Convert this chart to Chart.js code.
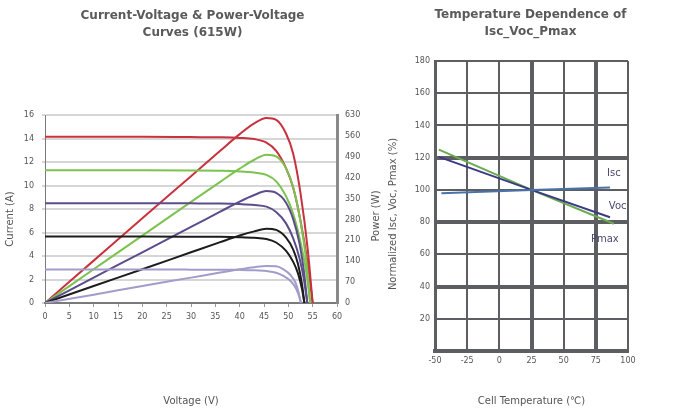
<!DOCTYPE html>
<html>
<head>
<meta charset="utf-8">
<script src="https://cdn.jsdelivr.net/npm/chart.js@4.4.1/dist/chart.umd.min.js"></script>
<style>
  html, body { margin: 0; padding: 0; background: #fff; }
  body { width: 676px; height: 416px; position: relative; overflow: hidden; }
  #ivBox { position: absolute; left: 0; top: 0; width: 385px; height: 416px; }
  #tempBox { position: absolute; left: 385px; top: 0; width: 291px; height: 416px; }
</style>
</head>
<body>
<div id="ivBox"><canvas id="ivChart"></canvas></div>
<div id="tempBox"><canvas id="tempChart"></canvas></div>
<script>
// I-V (A) and P-V (W) curves, one block per irradiance level
const vRed = [0, 10, 20, 30, 36, 40, 43, 45.5, 47.5, 49.5, 51, 52.5, 54, 55];
const iRed = [14.15, 14.15, 14.15, 14.12, 14.1, 14.05, 13.95, 13.65, 12.95, 11.5, 9.8, 7.0, 3.3, 0];
const pRed = [0, 142, 284, 425, 510, 566, 602, 620, 614, 569, 500, 368, 178, 0];

const vGreen = [0, 10, 20, 30, 36, 40, 43, 45.5, 47.5, 49.5, 51, 52.5, 53.7, 54.5];
const iGreen = [11.3, 11.3, 11.3, 11.28, 11.25, 11.2, 11.1, 10.9, 10.35, 9.1, 7.6, 5.2, 2.6, 0];
const pGreen = [0, 113, 226, 339, 406, 450, 480, 497, 491, 452, 388, 273, 140, 0];

const vPurple = [0, 10, 20, 30, 36, 40, 43, 45.5, 47.5, 49.5, 51, 52.3, 53.2, 53.9];
const iPurple = [8.5, 8.5, 8.5, 8.48, 8.46, 8.42, 8.35, 8.2, 7.75, 6.8, 5.5, 3.8, 2.0, 0];
const pPurple = [0, 85, 170, 255, 306, 340, 362, 375, 369, 337, 281, 199, 106, 0];

const vBlack = [0, 10, 20, 30, 36, 40, 43, 45.5, 47.5, 49.5, 51, 52, 52.8, 53.3];
const iBlack = [5.65, 5.65, 5.65, 5.64, 5.63, 5.6, 5.55, 5.45, 5.15, 4.45, 3.5, 2.5, 1.2, 0];
const pBlack = [0, 57, 113, 170, 204, 226, 240, 249, 245, 220, 179, 130, 63, 0];

const vLilac = [0, 10, 20, 30, 36, 40, 43, 45.5, 47.5, 49, 50.5, 51.5, 52.1, 52.6];
const iLilac = [2.85, 2.85, 2.85, 2.84, 2.83, 2.82, 2.79, 2.72, 2.58, 2.3, 1.85, 1.3, 0.7, 0];
const pLilac = [0, 28, 57, 85, 102, 113, 120, 124, 123, 113, 93, 67, 36, 0];

// temperature dependence, normalised to 25 degC (%)
const tempIsc = [-45, 25, 86];
const valIsc = [97.9, 100, 101.5];
const tempVoc = [-47, 25, 86];
const valVoc = [120.5, 100, 83];
const tempPmax = [-47, 25, 89];
const valPmax = [125, 100, 79];

const curveNames = ['Isc', 'Voc', 'Pmax'];
const nameTemp = [89, 92, 82];
const nameValue = [110, 90, 69];

const FONT = "'DejaVu Sans', Verdana, sans-serif";
Chart.defaults.font.family = FONT;
Chart.defaults.color = '#555';
Chart.defaults.animation = false;

function pts(xs, ys) {
  return xs.map((x, k) => ({ x: x, y: ys[k] }));
}

// vertical axis titles, read bottom to top like the original
const sideTitlePlugin = {
  id: 'sideTitles',
  afterDraw(chart, args, opts) {
    const ctx = chart.ctx;
    (opts.items || []).forEach(it => {
      ctx.save();
      ctx.translate(it.x, it.y);
      ctx.rotate(-Math.PI / 2);
      ctx.font = '10px ' + FONT;
      ctx.fillStyle = '#555';
      ctx.textAlign = 'center';
      ctx.textBaseline = 'middle';
      ctx.fillText(it.text, 0, 0);
      ctx.restore();
    });
  }
};

const ivSeries = [
  { v: vLilac, i: iLilac, p: pLilac, color: '#a29ccb' },
  { v: vBlack, i: iBlack, p: pBlack, color: '#1c1c1c' },
  { v: vPurple, i: iPurple, p: pPurple, color: '#5c4c8c' },
  { v: vGreen, i: iGreen, p: pGreen, color: '#7cc24e' },
  { v: vRed, i: iRed, p: pRed, color: '#c8323e' }
];

const ivDatasets = [];
ivSeries.forEach(s => {
  ivDatasets.push({ data: pts(s.v, s.i), yAxisID: 'y', borderColor: s.color, borderWidth: 2,
    pointRadius: 0, cubicInterpolationMode: 'monotone', fill: false });
  ivDatasets.push({ data: pts(s.v, s.p), yAxisID: 'y1', borderColor: s.color, borderWidth: 2,
    pointRadius: 0, cubicInterpolationMode: 'monotone', fill: false });
});

new Chart(document.getElementById('ivChart'), {
  type: 'line',
  data: { datasets: ivDatasets },
  plugins: [sideTitlePlugin],
  options: {
    responsive: true,
    maintainAspectRatio: false,
    plugins: {
      legend: { display: false },
      tooltip: { enabled: false },
      title: {
        display: true,
        text: ['Current-Voltage & Power-Voltage', 'Curves (615W)'],
        color: '#5a5a5a',
        font: { size: 12, weight: 'bold', lineHeight: 17 / 12 },
        padding: { top: 7.5, bottom: 73.5 }
      },
      sideTitles: {
        items: [
          { text: 'Current (A)', x: 10, y: 219 },
          { text: 'Power (W)', x: 376, y: 216 }
        ]
      }
    },
    scales: {
      x: {
        type: 'linear', min: 0, max: 60,
        ticks: { stepSize: 5, font: { size: 8 }, padding: 5, autoSkip: false },
        grid: { drawOnChartArea: false, tickLength: 4, color: '#999' },
        border: { color: '#7a7a7a', width: 2 },
        title: { display: true, text: 'Voltage (V)', font: { size: 10 }, padding: { bottom: 9 } },
        afterFit: s => { s.height = 113; }
      },
      y: {
        min: 0, max: 16,
        ticks: { stepSize: 2, font: { size: 8 }, padding: 8 },
        grid: { color: '#d6d6d6', lineWidth: 2, tickLength: 3 },
        border: { color: '#7a7a7a', width: 1 },
        afterFit: s => { s.width = 45; }
      },
      y1: {
        position: 'right', min: 0, max: 630,
        ticks: { stepSize: 70, font: { size: 8 }, padding: 8 },
        grid: { drawOnChartArea: false, drawTicks: false },
        border: { color: '#8a8a8a', width: 3 },
        afterFit: s => { s.width = 48; }
      }
    }
  }
});

const GRID = '#5d5e62';

const curveNamePlugin = {
  id: 'curveNames',
  afterDatasetsDraw(chart) {
    const { ctx, scales } = chart;
    ctx.save();
    ctx.font = '10px ' + FONT;
    ctx.fillStyle = '#4a4a6e';
    ctx.textAlign = 'center';
    ctx.textBaseline = 'middle';
    curveNames.forEach((name, k) => {
      ctx.fillText(name, scales.x.getPixelForValue(nameTemp[k]), scales.y.getPixelForValue(nameValue[k]));
    });
    ctx.restore();
  }
};

new Chart(document.getElementById('tempChart'), {
  type: 'line',
  data: {
    datasets: [
      { data: pts(tempIsc, valIsc), borderColor: '#4a72a8', borderWidth: 2, pointRadius: 0 },
      { data: pts(tempVoc, valVoc), borderColor: '#3c3a86', borderWidth: 2, pointRadius: 0 },
      { data: pts(tempPmax, valPmax), borderColor: '#6aaa50', borderWidth: 2, pointRadius: 0 }
    ]
  },
  plugins: [curveNamePlugin, sideTitlePlugin],
  options: {
    responsive: true,
    maintainAspectRatio: false,
    plugins: {
      legend: { display: false },
      tooltip: { enabled: false },
      title: {
        display: true,
        text: ['Temperature Dependence of', 'Isc_Voc_Pmax'],
        color: '#5a5a5a',
        font: { size: 12, weight: 'bold', lineHeight: 17 / 12 },
        padding: { top: 6.5, bottom: 20.5 }
      },
      sideTitles: {
        items: [
          { text: 'Normalized Isc, Voc, Pmax (%)', x: 8, y: 214 }
        ]
      }
    },
    scales: {
      x: {
        type: 'linear', min: -50, max: 100,
        ticks: { stepSize: 25, font: { size: 8 }, padding: 5, autoSkip: false },
        grid: { color: GRID, lineWidth: c => [25, 75].includes(c.tick.value) ? 4 : 2, drawTicks: false },
        border: { color: GRID, width: 4 },
        title: { display: true, text: 'Cell Temperature (℃)', font: { size: 10 }, padding: { bottom: 9 } },
        afterFit: s => { s.height = 65; }
      },
      y: {
        min: 0, max: 180,
        ticks: { stepSize: 20, font: { size: 8 }, padding: 5, callback: v => v === 0 ? '' : v },
        grid: { color: GRID, lineWidth: c => [0, 40, 80, 120].includes(c.tick.value) ? 4 : 2, drawTicks: false },
        border: { color: GRID, width: 3 },
        afterFit: s => { s.width = 50; }
      },
      // empty right-hand strip so the plot keeps its width while the title stays centred
      yRight: {
        position: 'right', display: true,
        grid: { display: false }, ticks: { display: false }, border: { display: false },
        afterFit: s => { s.width = 48; }
      }
    }
  }
});
</script>
</body>
</html>
